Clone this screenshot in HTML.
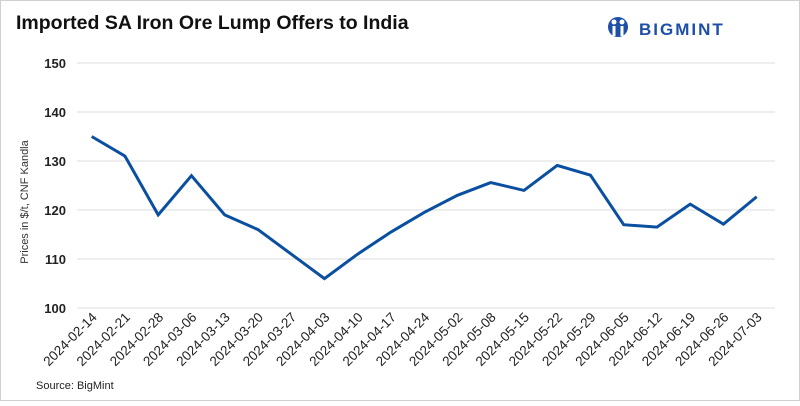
<!DOCTYPE html>
<html><head><meta charset="utf-8"><style>
html,body{margin:0;padding:0;background:#fff}
body{width:800px;height:401px;overflow:hidden;font-family:"Liberation Sans",sans-serif}
</style></head><body>
<svg width="800" height="401" viewBox="0 0 800 401" xmlns="http://www.w3.org/2000/svg">
<rect x="0.5" y="0.5" width="799" height="400" fill="#fff" stroke="#d0d0d0"/>
<text x="16" y="29" font-size="19.5" font-weight="bold" fill="#111">Imported SA Iron Ore Lump Offers to India</text>
<g>
<circle cx="618" cy="27" r="10" fill="#1d4fa8"/>
<circle cx="614" cy="22" r="2.5" fill="#fff"/><circle cx="622" cy="22" r="2.5" fill="#fff"/>
<rect x="612.5" y="26" width="3" height="10" fill="#fff"/><rect x="620.5" y="26" width="3" height="10" fill="#fff"/>
<text x="639" y="35" font-size="17" font-weight="bold" fill="#1d4fa8" letter-spacing="2">BIGMINT</text>
</g>
<g id="grid"></g><g id="yt"></g><g id="xt"></g>
<text transform="translate(28,202) rotate(-90)" text-anchor="middle" font-size="11" fill="#333">Prices in $/t, CNF Kandla</text>
<path id="line" fill="none" stroke="#0a4fa0" stroke-width="3" stroke-linejoin="miter"/>
<text x="36" y="389" font-size="11" fill="#222">Source: BigMint</text>
</svg>
<script>
const categories=["2024-02-14","2024-02-21","2024-02-28","2024-03-06","2024-03-13","2024-03-20","2024-03-27","2024-04-03","2024-04-10","2024-04-17","2024-04-24","2024-05-02","2024-05-08","2024-05-15","2024-05-22","2024-05-29","2024-06-05","2024-06-12","2024-06-19","2024-06-26","2024-07-03"];
const values=[135,131,119,127,119,116,111,106,111,115.5,119.5,123,125.6,124,129.1,127.1,117,116.5,121.2,117.1,122.7];
const yTicks=[100,110,120,130,140,150];
const NS="http://www.w3.org/2000/svg";
const x=i=>91.7+i*(665/20);
const y=v=>308-(v-100)*4.9;
const grid=document.getElementById('grid'),yt=document.getElementById('yt'),xt=document.getElementById('xt');
yTicks.forEach(t=>{
 const l=document.createElementNS(NS,'line');
 l.setAttribute('x1',77);l.setAttribute('x2',775);l.setAttribute('y1',y(t));l.setAttribute('y2',y(t));
 l.setAttribute('stroke','#dcdcdc');l.setAttribute('stroke-width','1');
 
 
 grid.appendChild(l);
 const tx=document.createElementNS(NS,'text');
 tx.setAttribute('x',66);tx.setAttribute('y',y(t)+5);tx.setAttribute('text-anchor','end');
 tx.setAttribute('font-size','13');tx.setAttribute('font-weight','bold');tx.setAttribute('fill','#222');
 tx.textContent=t;
 
 
 yt.appendChild(tx);
});
categories.forEach((c,i)=>{
 const tx=document.createElementNS(NS,'text');
 tx.setAttribute('transform',`translate(${x(i)+6},${318}) rotate(-45)`);
 tx.setAttribute('text-anchor','end');tx.setAttribute('font-size','13.5');tx.setAttribute('fill','#222');
 tx.textContent=c;
 
 
 xt.appendChild(tx);
});
document.getElementById('line').setAttribute('d',values.map((v,i)=>(i?'L':'M')+x(i)+','+y(v)).join(' '));
</script>
</body></html>
